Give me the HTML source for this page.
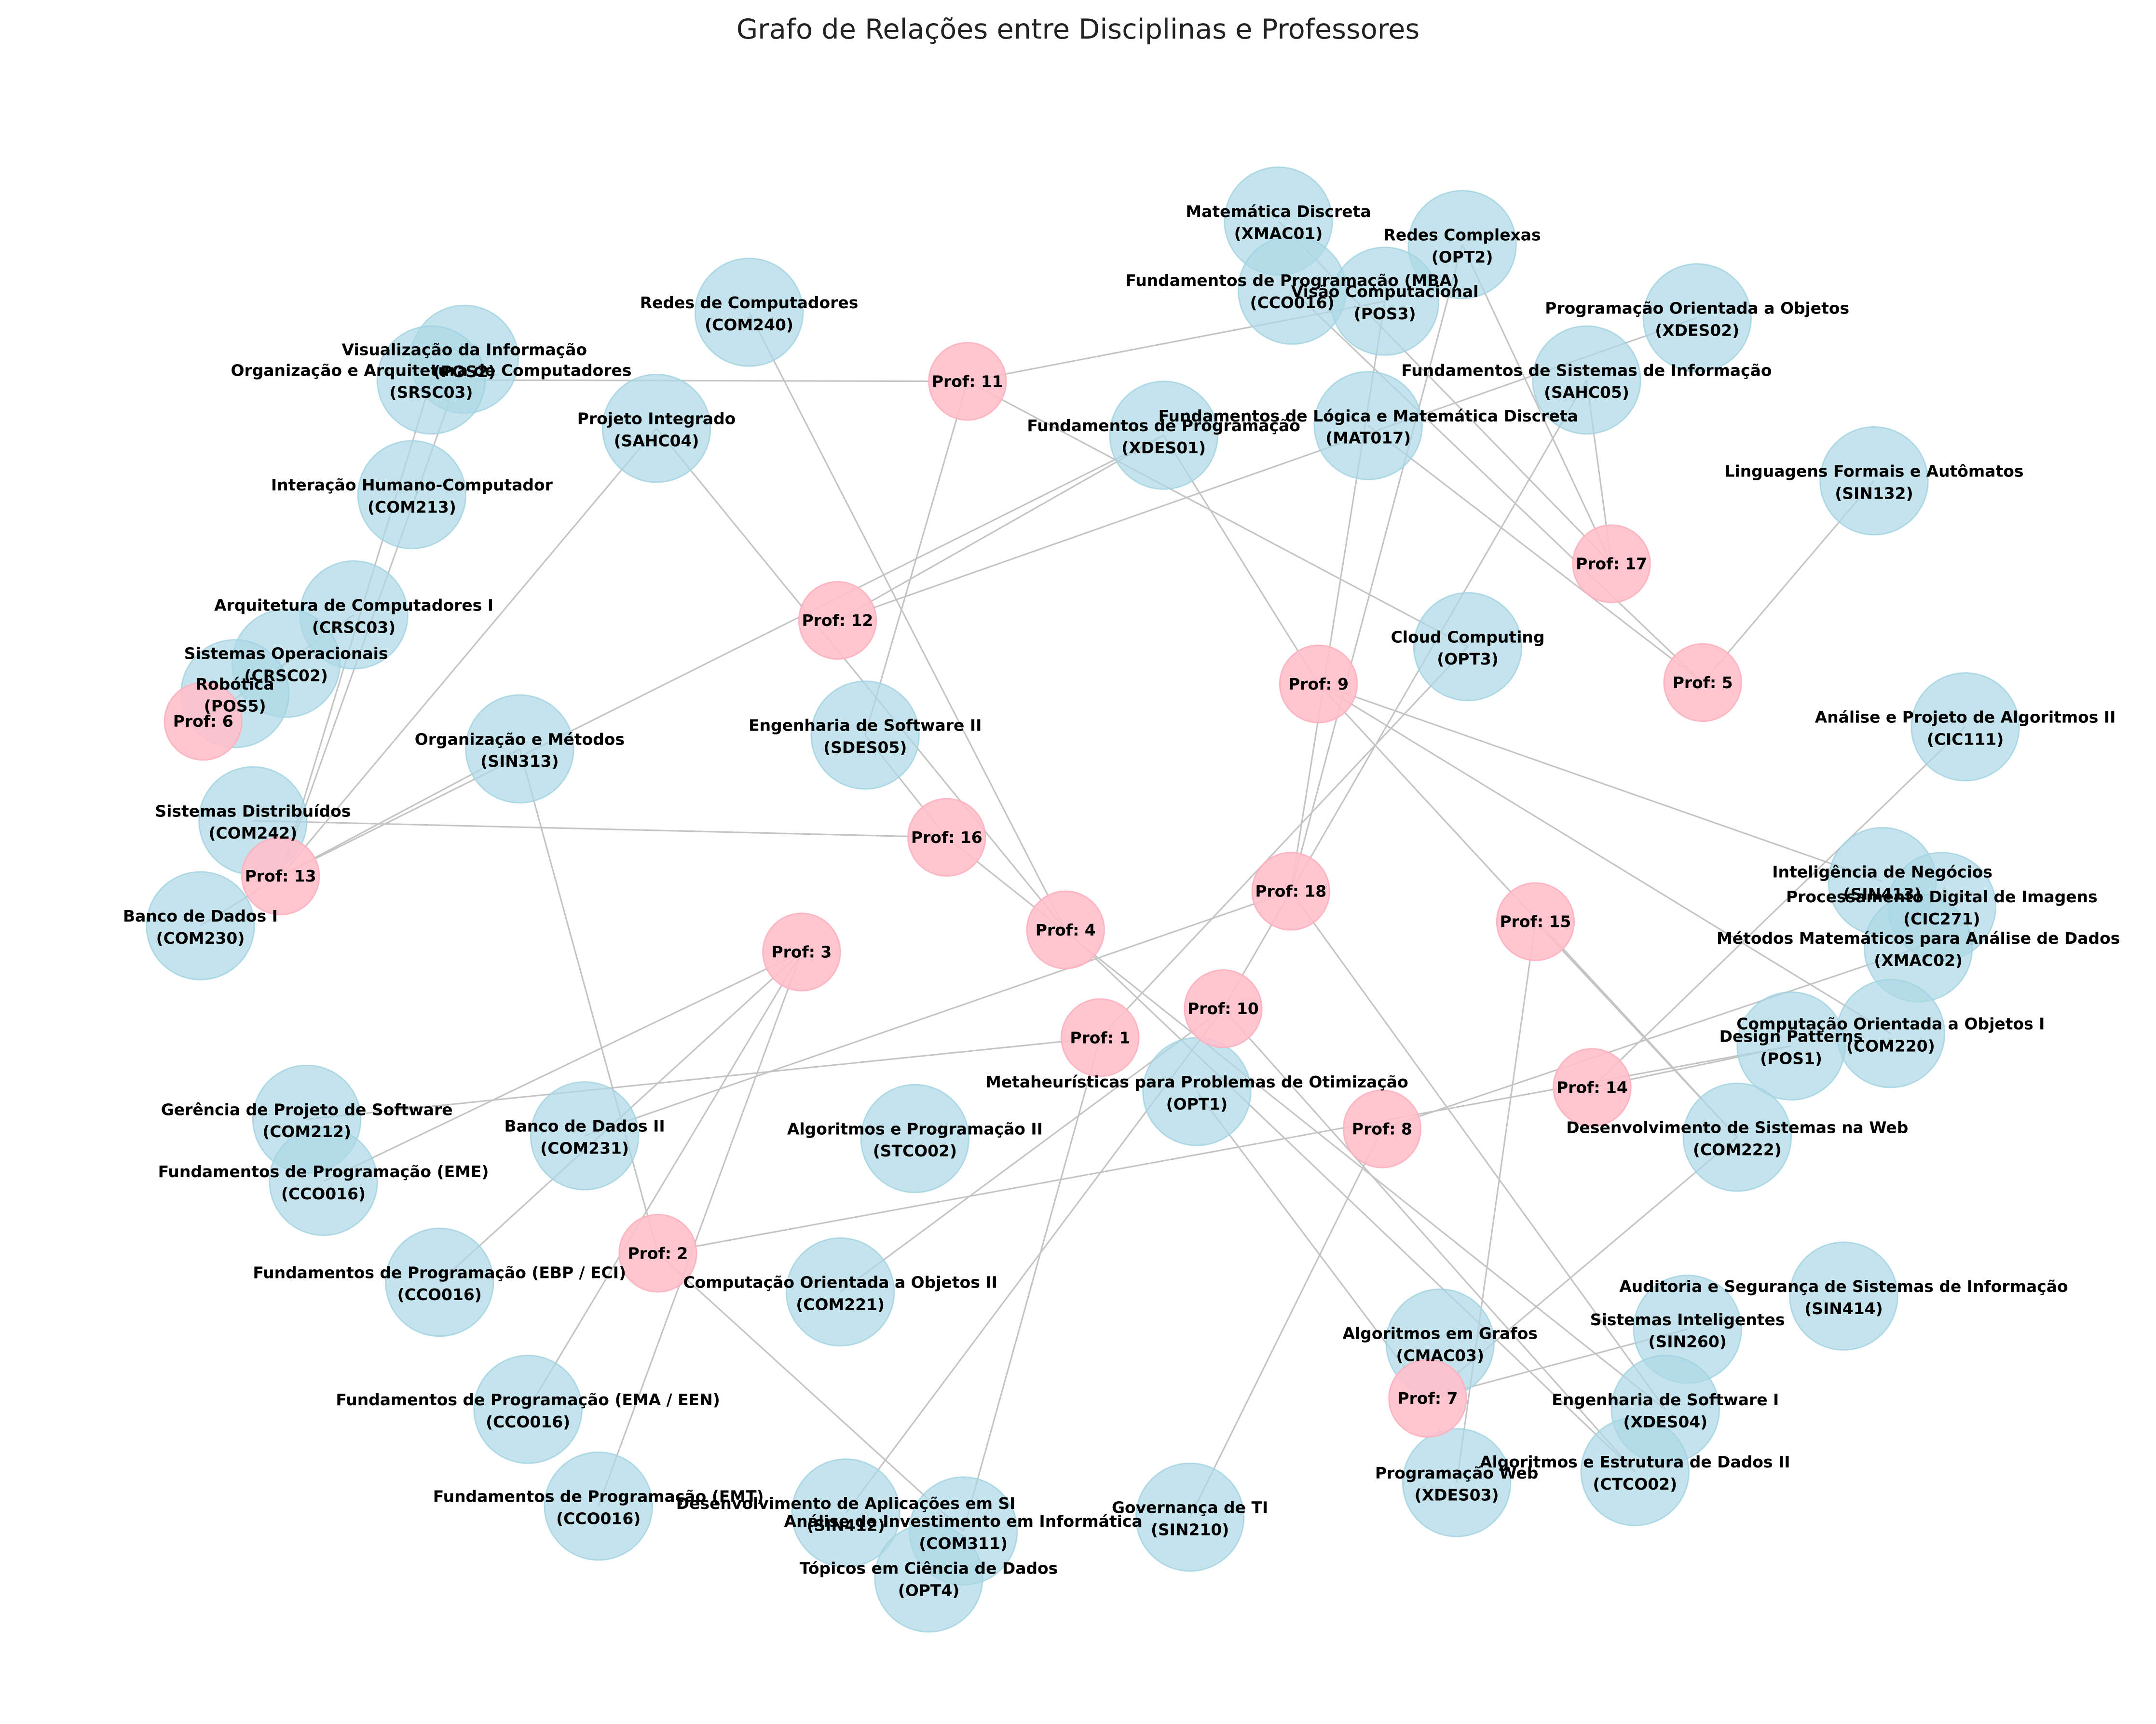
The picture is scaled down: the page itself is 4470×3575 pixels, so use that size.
<!DOCTYPE html>
<html><head><meta charset="utf-8"><style>
html,body{margin:0;padding:0;background:#fff;}
svg{display:block;}
text{font-family:"DejaVu Sans","Liberation Sans",sans-serif;}
</style></head><body>
<svg id="chart" width="4470" height="3575" viewBox="0 0 1560 1247.7" preserveAspectRatio="none" xmlns="http://www.w3.org/2000/svg">
<text x="780" y="28" text-anchor="middle" font-size="20" fill="#222">Grafo de Relações entre Disciplinas e Professores</text>
<g id="edges"></g>
<g id="nodes"></g>
<g id="labels"></g>
</svg>
<script>
const courseNames = ["Matemática Discreta","Redes Complexas","Fundamentos de Programação (MBA)","Visão Computacional","Programação Orientada a Objetos","Redes de Computadores","Visualização da Informação","Organização e Arquitetura de Computadores","Fundamentos de Sistemas de Informação","Projeto Integrado","Fundamentos de Programação","Fundamentos de Lógica e Matemática Discreta","Linguagens Formais e Autômatos","Interação Humano-Computador","Arquitetura de Computadores I","Sistemas Operacionais","Robótica","Cloud Computing","Engenharia de Software II","Organização e Métodos","Análise e Projeto de Algoritmos II","Sistemas Distribuídos","Banco de Dados I","Inteligência de Negócios","Processamento Digital de Imagens","Métodos Matemáticos para Análise de Dados","Computação Orientada a Objetos I","Design Patterns","Metaheurísticas para Problemas de Otimização","Gerência de Projeto de Software","Banco de Dados II","Algoritmos e Programação II","Desenvolvimento de Sistemas na Web","Fundamentos de Programação (EME)","Fundamentos de Programação (EBP / ECI)","Computação Orientada a Objetos II","Auditoria e Segurança de Sistemas de Informação","Sistemas Inteligentes","Algoritmos em Grafos","Fundamentos de Programação (EMA / EEN)","Engenharia de Software I","Algoritmos e Estrutura de Dados II","Programação Web","Fundamentos de Programação (EMT)","Desenvolvimento de Aplicações em SI","Análise de Investimento em Informática","Governança de TI","Tópicos em Ciência de Dados"];
const courseCodes = ["XMAC01","OPT2","CCO016","POS3","XDES02","COM240","POS2","SRSC03","SAHC05","SAHC04","XDES01","MAT017","SIN132","COM213","CRSC03","CRSC02","POS5","OPT3","SDES05","SIN313","CIC111","COM242","COM230","SIN413","CIC271","XMAC02","COM220","POS1","OPT1","COM212","COM231","STCO02","COM222","CCO016","CCO016","COM221","SIN414","SIN260","CMAC03","CCO016","XDES04","CTCO02","XDES03","CCO016","SIN412","COM311","SIN210","OPT4"];
const courseX = [925,1058,935,1002,1228,542,336,312,1148,475,842,990,1356,298,256,207,170,1062,626,376,1422,183,145,1362,1405,1388,1368,1296,866,222,423,662,1257,234,318,608,1334,1221,1042,382,1205,1183,1054,433,612,697,861,672];
const courseY = [160,177,210,218,230,226,260,275,275,310,315,308,348,358,445,480,502,468,532,542,526,594,670,638,656,686,748,757,790,810,822,824,823,855,928,935,938,962,972,1020,1020,1065,1073,1090,1095,1108,1098,1142];
const profIds = [11,17,12,9,5,6,16,13,18,15,3,4,10,1,14,8,2,7];
const profX = [700,1166,606,954,1232,147,685,203,934,1111,580,771,885,796,1152,1000,476,1033];
const profY = [276,408,449,495,494,522,606,634,645,667,689,673,730,751,787,817,907,1012];
// edges: [prof id, course index]
const edgeProf = [11,11,11,11,12,12,13,13,13,13,13,13,6,6,16,16,16,4,4,4,9,9,9,9,17,17,17,5,5,5,18,18,18,18,15,15,3,3,3,3,1,1,1,10,10,10,10,14,14,2,2,2,8,8,7,7,7];
const edgeCourse = [7,3,18,17,4,10,10,9,6,19,22,7,14,15,21,18,40,5,9,41,10,23,26,32,8,1,0,12,11,2,30,1,40,3,42,32,33,34,39,43,29,17,45,8,35,44,41,20,27,19,45,27,46,25,37,32,28];
const S = "http://www.w3.org/2000/svg";
const gE = document.getElementById('edges'), gN = document.getElementById('nodes'), gL = document.getElementById('labels');
function pIdx(id){return profIds.indexOf(id);}
for (let i=0;i<edgeProf.length;i++){
  const p=pIdx(edgeProf[i]), c=edgeCourse[i];
  const l=document.createElementNS(S,'line');
  l.setAttribute('x1',profX[p]);l.setAttribute('y1',profY[p]);
  l.setAttribute('x2',courseX[c]);l.setAttribute('y2',courseY[c]);
  l.setAttribute('stroke','#c4c4c4');l.setAttribute('stroke-width','1.1');
  
  
  gE.appendChild(l);
}
for (let i=0;i<courseNames.length;i++){
  const e=document.createElementNS(S,'circle');
  e.setAttribute('cx',courseX[i]);e.setAttribute('cy',courseY[i]);
  e.setAttribute('r',39);
  e.setAttribute('fill','rgba(173,216,230,0.72)');e.setAttribute('stroke','rgba(160,210,225,0.8)');
  
  
  gN.appendChild(e);
  const t=document.createElementNS(S,'text');
  t.setAttribute('x',courseX[i]);t.setAttribute('text-anchor','middle');
  t.setAttribute('font-size','11.5');t.setAttribute('font-weight','bold');t.setAttribute('fill','#000');
  
  
  const a=document.createElementNS(S,'tspan');a.setAttribute('x',courseX[i]);a.setAttribute('y',courseY[i]-3);a.textContent=courseNames[i];
  const b=document.createElementNS(S,'tspan');b.setAttribute('x',courseX[i]);b.setAttribute('y',courseY[i]+13);b.textContent='('+courseCodes[i]+')';
  t.appendChild(a);t.appendChild(b);gL.appendChild(t);
}
for (let i=0;i<profIds.length;i++){
  const e=document.createElementNS(S,'circle');
  e.setAttribute('cx',profX[i]);e.setAttribute('cy',profY[i]);
  e.setAttribute('r',28);
  e.setAttribute('fill','rgba(255,192,203,0.9)');e.setAttribute('stroke','rgba(255,175,190,0.9)');
  
  
  gN.appendChild(e);
  const t=document.createElementNS(S,'text');
  t.setAttribute('x',profX[i]);t.setAttribute('y',profY[i]+4);t.setAttribute('text-anchor','middle');
  t.setAttribute('font-size','11.5');t.setAttribute('font-weight','bold');
  
  
  t.textContent='Prof: '+profIds[i];gL.appendChild(t);
}
</script>
</body></html>
